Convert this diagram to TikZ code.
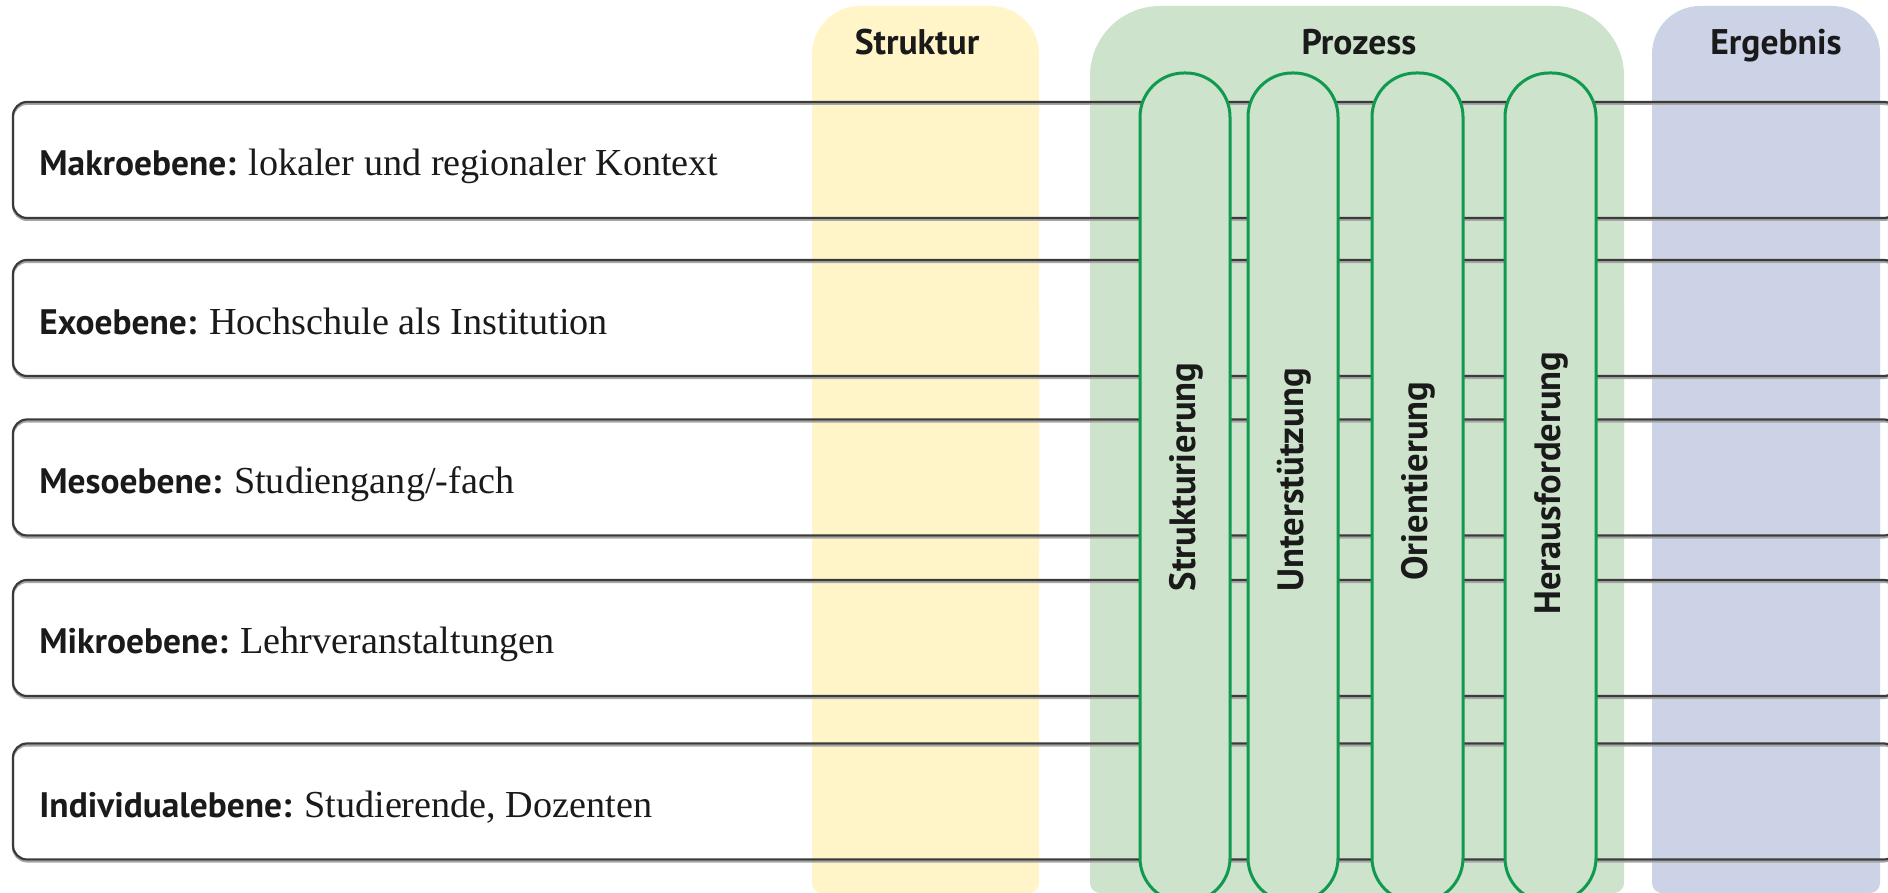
\documentclass[tikz,border=0pt]{standalone}
\usepackage{fontspec}
\setmainfont{Liberation Serif}
\newfontfamily\sansb{PT Sans}[UprightFont=*-Bold]
\definecolor{colY}{HTML}{FFF5C8}
\definecolor{colG}{HTML}{CDE3CB}
\definecolor{colB}{HTML}{CDD3E6}
\definecolor{pillgreen}{HTML}{0F9A4F}
\definecolor{linegray}{HTML}{3A3A3A}
\definecolor{txt}{HTML}{1A1A1A}
\tikzset{
  rowbox/.style={draw=linegray, line width=1.1pt, rounded corners=7pt,
    minimum width=942.5pt, minimum height=58pt, inner sep=0pt,
    preaction={draw=black!35, line width=1pt, transform canvas={yshift=-1pt}}},
  rowtext/.style={anchor=base west, inner sep=0pt, text=txt,
    font=\fontsize{19.1}{23}\selectfont},
  header/.style={anchor=base, inner sep=0pt, text=txt,
    font=\sansb\fontsize{17.8}{21}\selectfont},
  pill/.style={draw=pillgreen, fill=colG, line width=1.5pt,
    rounded corners=22pt, minimum height=414.5pt, inner sep=0pt},
  pilltext/.style={rotate=90, inner sep=0pt, text=txt,
    font=\sansb\fontsize{18.3}{21}\selectfont}
}
\newcommand{\lvl}[1]{{\sansb\fontsize{17.7}{21}\selectfont #1}}
\begin{document}
\begin{tikzpicture}[x=0.5pt,y=-0.5pt]
\useasboundingbox (0,0) rectangle (1888,893);
\clip (0,0) rectangle (1888,893);
% column backgrounds
\fill[colY, rounded corners=24pt] (812,6) rectangle (1039,600);
\fill[colY, rounded corners=5pt] (812,300) rectangle (1039,893);
\fill[colG, rounded corners=35pt] (1090,6) rectangle (1624,600);
\fill[colG, rounded corners=5pt] (1090,300) rectangle (1624,893);
\fill[colB, rounded corners=24pt] (1652,6) rectangle (1880,600);
\fill[colB, rounded corners=5pt] (1652,300) rectangle (1880,893);
% headers
\node[header] (hS) at (917,55) {Struktur};
\node[header] (hP) at (1359,55) {Prozess};
\node[header] (hE) at (1776,55) {Ergebnis};
% level rows
\node[rowbox] (r1) at (955.5,160) {};
\node[rowbox] (r2) at (955.5,318) {};
\node[rowbox] (r3) at (955.5,477.5) {};
\node[rowbox] (r4) at (955.5,638) {};
\node[rowbox] (r5) at (955.5,801.5) {};
\node[rowtext] (t1) at (39,176) {\lvl{Makroebene:} lokaler und regionaler Kontext};
\node[rowtext] (t2) at (39,334) {\lvl{Exoebene:} Hochschule als Institution};
\node[rowtext] (t3) at (39,493) {\lvl{Mesoebene:} Studiengang/-fach};
\node[rowtext] (t4) at (39,653) {\lvl{Mikroebene:} Lehrveranstaltungen};
\node[rowtext] (t5) at (39,817) {\lvl{Individualebene:} Studierende, Dozenten};
% process pills
\node[pill, minimum width=45pt] (p1) at (1185,487.5) {};
\node[pill, minimum width=45pt] (p2) at (1293,487.5) {};
\node[pill, minimum width=45.5pt] (p3) at (1417.5,487.5) {};
\node[pill, minimum width=45.5pt] (p4) at (1550.5,487.5) {};
\node[pilltext] (l1) at (1186,477) {Strukturierung};
\node[pilltext] (l2) at (1294,480) {Unterstützung};
\node[pilltext] (l3) at (1418.5,481) {Orientierung};
\node[pilltext] (l4) at (1551.5,483) {Herausforderung};
\end{tikzpicture}
\end{document}
